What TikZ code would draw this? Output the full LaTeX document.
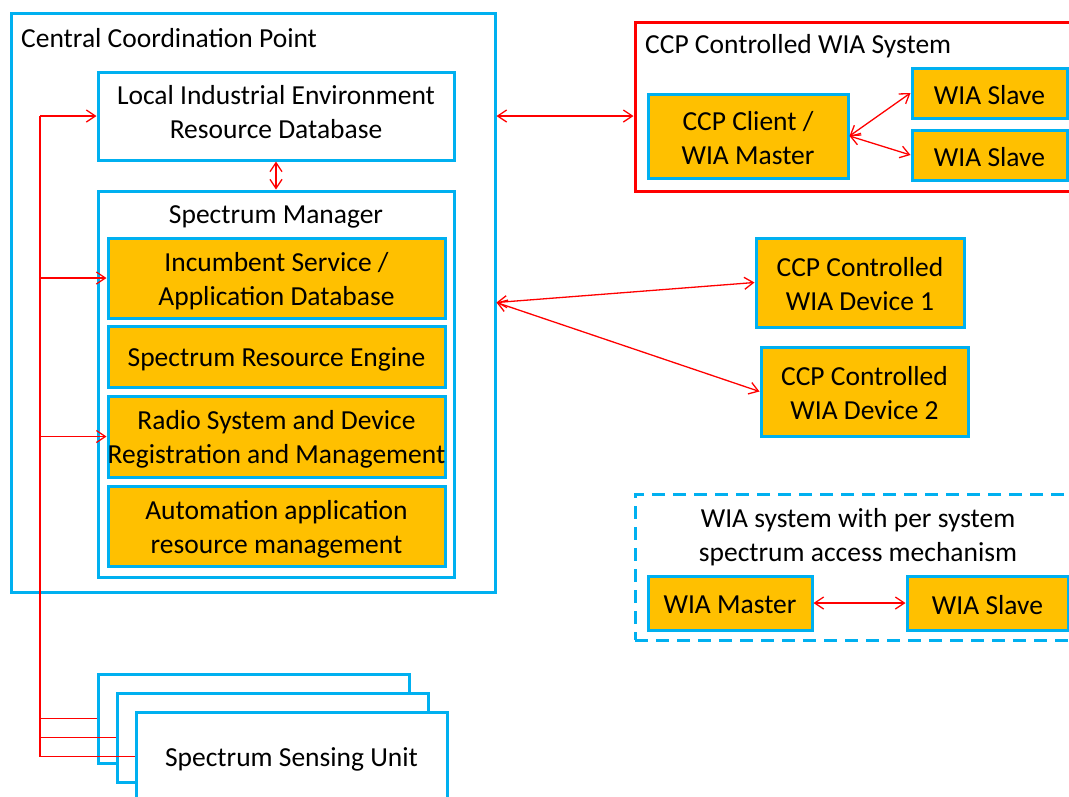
\documentclass[tikz,border=0pt]{standalone}
\usepackage{fontspec}
\setmainfont{Carlito}
\usetikzlibrary{arrows.meta}
\definecolor{cblue}{HTML}{00B0F0}
\definecolor{corange}{HTML}{FFC000}
\definecolor{cred}{HTML}{FF0000}
\tikzset{
  bx/.style={draw=cblue, line width=3pt, inner sep=0pt},
  ob/.style={bx, fill=corange},
  wb/.style={bx, fill=white},
  lbl/.style={inner sep=0pt, align=center, font=\fontsize{27.5}{34}\selectfont},
  lnk/.style={draw=cred, line width=1.3pt, {Straight Barb[length=9pt,width=12pt]}-{Straight Barb[length=9pt,width=12pt]}},
  one/.style={draw=cred, line width=1.3pt, -{Straight Barb[length=9pt,width=12pt]}},
  wire/.style={draw=cred, line width=1.3pt}
}
\begin{document}
\begin{tikzpicture}[x=1pt,y=-1pt]
\useasboundingbox (0,0) rectangle (1069,796);
\clip (0,0) rectangle (1069,796);
% Central Coordination Point
\node[wb, minimum width=484pt, minimum height=579pt] (ccp) at (253,302.5) {};
\node[lbl, anchor=west] (ccpt) at (21,38) {Central Coordination Point};
\node[wb, minimum width=356pt, minimum height=88pt] (lierd) at (276,116) {};
\node[lbl] (lierdt) at ([yshift=4pt]lierd.center) {Local Industrial Environment\\Resource Database};
\node[wb, minimum width=356pt, minimum height=386pt] (sm) at (276,384) {};
\node[lbl] (smt) at (276,217) {Spectrum Manager};
\node[ob, minimum width=337pt, minimum height=80pt] (inc) at (276.5,278) {};
\node[lbl] (inct) at ([yshift=-3pt]inc.center) {Incumbent Service /\\Application Database};
\node[ob, minimum width=337pt, minimum height=61pt] (sre) at (276.5,356.5) {};
\node[lbl] (sret) at ([yshift=-3pt]sre.center) {Spectrum Resource Engine};
\node[ob, minimum width=337pt, minimum height=81pt] (radio) at (276.5,436.5) {};
\node[lbl] (radiot) at ([yshift=-3pt]radio.center) {Radio System and Device\\Registration and Management};
\node[ob, minimum width=337pt, minimum height=80pt] (auto) at (276.5,526) {};
\node[lbl] (autot) at ([yshift=-3pt]auto.center) {Automation application\\resource management};
% CCP controlled WIA system
\node[draw=cred, line width=3pt, fill=white, minimum width=465pt, minimum height=169pt, inner sep=0pt] (sys) at (867.5,106.5) {};
\node[lbl, anchor=west] (syst) at (645,46) {CCP Controlled WIA System};
\node[ob, minimum width=200pt, minimum height=84pt] (client) at (748,136) {};
\node[lbl] (clientt) at ([yshift=-2pt]client.center) {CCP Client /\\WIA Master};
\node[ob, minimum width=155pt, minimum height=50pt] (slave1) at (989.5,93) {};
\node[lbl] (slave1t) at ([yshift=-2pt]slave1.center) {WIA Slave};
\node[ob, minimum width=155pt, minimum height=50pt] (slave2) at (989.5,155) {};
\node[lbl] (slave2t) at ([yshift=-2pt]slave2.center) {WIA Slave};
% devices
\node[ob, minimum width=208pt, minimum height=89pt] (dev1) at (860,282.5) {};
\node[lbl] (dev1t) at ([yshift=-2pt]dev1.center) {CCP Controlled\\WIA Device 1};
\node[ob, minimum width=207pt, minimum height=89pt] (dev2) at (864.5,391.5) {};
\node[lbl] (dev2t) at ([yshift=-2pt]dev2.center) {CCP Controlled\\WIA Device 2};
% dashed system
\node[draw=cblue, line width=3pt, dash pattern=on 13pt off 8pt, minimum width=446pt, minimum height=146pt, inner sep=0pt] (per) at (858,567) {};
\node[lbl] (pert) at (858,537) {WIA system with per system\\spectrum access mechanism};
\node[ob, minimum width=164pt, minimum height=54pt] (wmaster) at (730,603) {};
\node[lbl] (wmastert) at ([yshift=-2pt]wmaster.center) {WIA Master};
\node[ob, minimum width=161pt, minimum height=54pt] (wslave) at (987.5,603) {};
\node[lbl] (wslavet) at ([yshift=-2pt]wslave.center) {WIA Slave};
% spectrum sensing units
\node[wb, minimum width=311pt, minimum height=89pt] (ssu1) at (253.5,718.5) {};
\node[wb, minimum width=311pt, minimum height=89pt] (ssu2) at (272.5,737.5) {};
\node[wb, minimum width=311pt, minimum height=89pt] (ssu3) at (291.5,756.5) {};
\node[lbl] (ssu3t) at ([yshift=-3pt]ssu3.center) {Spectrum Sensing Unit};
% connectors
\draw[lnk] (lierd.south) -- (sm.north);
\draw[lnk] (ccp.east |- lierd.east) -- (sys.west |- lierd.east);
\draw[lnk] (ccp.east) -- (dev1.west);
\draw[lnk] (ccp.east) -- (dev2.west);
\draw[lnk] (client.east) -- (slave1.west);
\draw[lnk] (client.east) -- (slave2.west);
\draw[lnk] (wmaster.east) -- (wslave.west);
% left bus
\coordinate (bt) at (40,116);
\coordinate (b1) at (40,278);
\coordinate (b2) at (40,436.5);
\coordinate (s1) at (40,718.5);
\coordinate (s2) at (40,737.5);
\coordinate (s3) at (40,756.5);
\draw[wire] (bt) -- (s3);
\draw[one] (bt) -- (lierd.west);
\draw[one] (b1) -- (inc.west);
\draw[one] (b2) -- (radio.west);
\draw[wire] (s1) -- (ssu1.west);
\draw[wire] (s2) -- (ssu2.west);
\draw[wire] (s3) -- (ssu3.west);
\end{tikzpicture}
\end{document}
